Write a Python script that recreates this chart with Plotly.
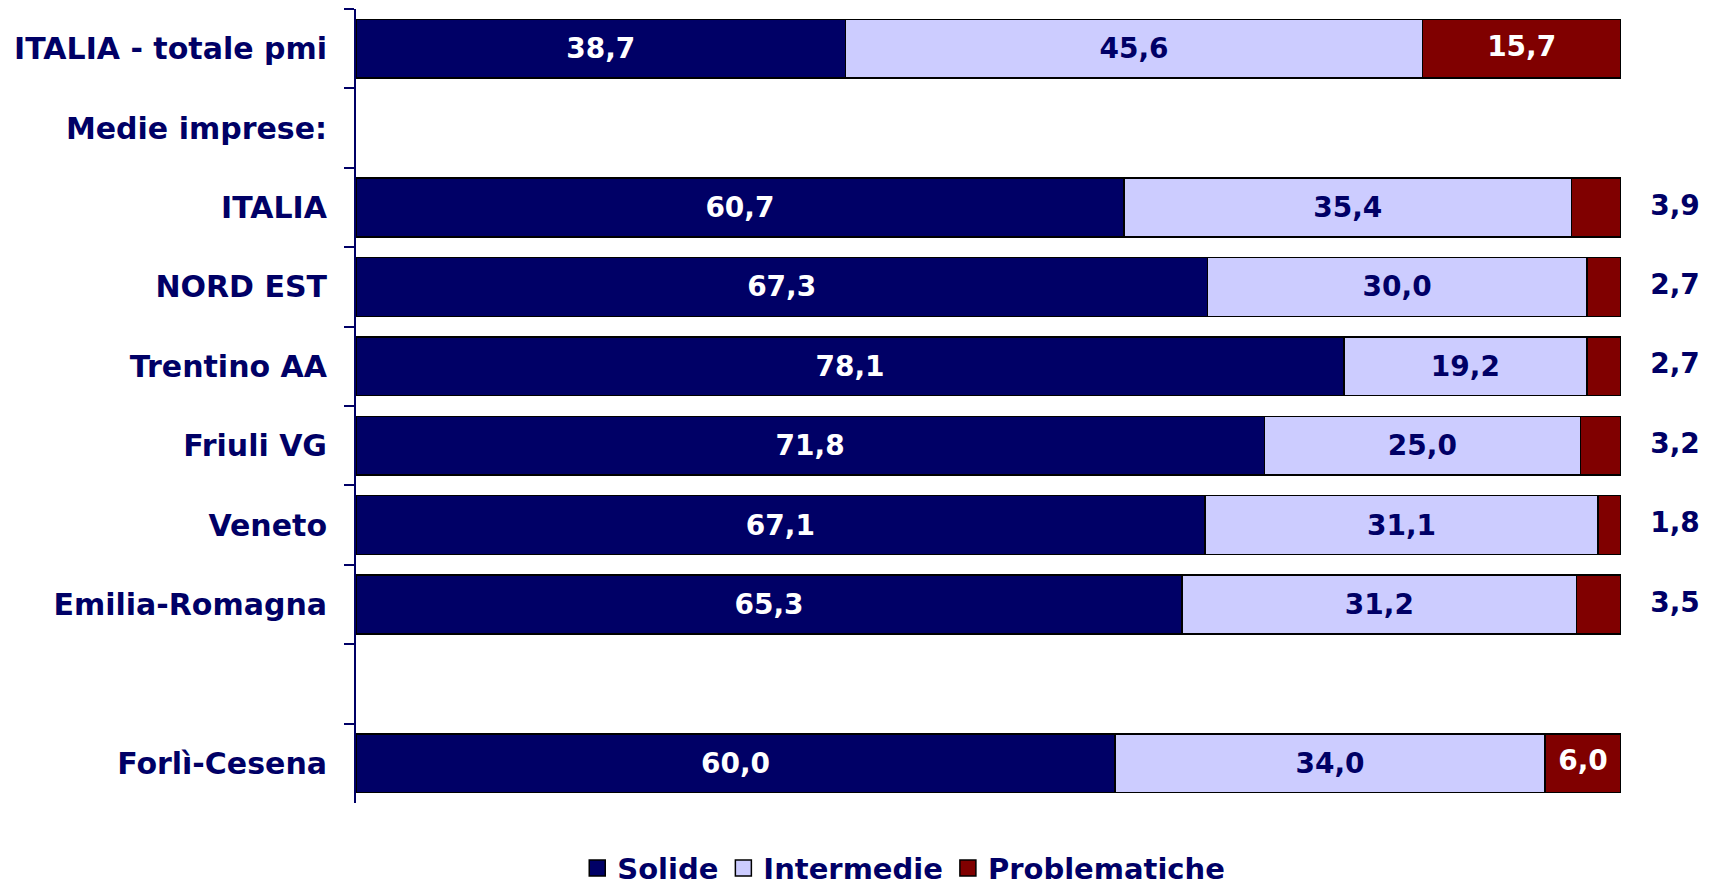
import plotly.graph_objects as go

NAVY = "#000066"

categories = [
    "ITALIA - totale pmi",
    "Medie imprese:",
    "ITALIA",
    "NORD EST",
    "Trentino AA",
    "Friuli VG",
    "Veneto",
    "Emilia-Romagna",
    " ",
    "Forlì-Cesena",
]
solide = [38.7, None, 60.7, 67.3, 78.1, 71.8, 67.1, 65.3, None, 60.0]
intermedie = [45.6, None, 35.4, 30.0, 19.2, 25.0, 31.1, 31.2, None, 34.0]
problematiche = [15.7, None, 3.9, 2.7, 2.7, 3.2, 1.8, 3.5, None, 6.0]

series = [
    ("Solide", solide, NAVY, "white"),
    ("Intermedie", intermedie, "#CCCCFF", NAVY),
    ("Problematiche", problematiche, "#800000", "white"),
]

label_font = dict(family="DejaVu Sans", size=28, weight="bold")
NBSP = "\u00a0"


def fmt(v):
    return "" if v is None else f"{v:.1f}".replace(".", ",")


fig = go.Figure()
for name, values, color, text_color in series:
    is_last = name == "Problematiche"
    fig.add_trace(
        go.Bar(
            name=name,
            y=categories,
            x=values,
            orientation="h",
            marker=dict(color=color, line=dict(color="black", width=1.5)),
            text=None if is_last else [fmt(v) for v in values],
            textposition="inside",
            textangle=0,
            insidetextanchor="middle",
            insidetextfont=dict(color=text_color, **label_font),
            constraintext="none",
            showlegend=False,
        )
    )
    # legend entry with a bigger square symbol
    fig.add_trace(
        go.Scatter(
            name=name,
            x=[None],
            y=[None],
            mode="markers",
            marker=dict(symbol="square", size=16, color=color,
                        line=dict(color="black", width=1.5)),
        )
    )

# labels of the last segment: inside when it's wide enough, otherwise past the bar end
ends, prob_labels, prob_pos, prob_colors = [], [], [], []
for s, i, p in zip(solide, intermedie, problematiche):
    if p is None:
        ends.append(None)
        prob_labels.append("")
        prob_pos.append("middle center")
        prob_colors.append("white")
        continue
    total = s + i + p
    if p < 5:
        ends.append(total)
        prob_labels.append(NBSP * 3 + fmt(p))
        prob_pos.append("middle right")
        prob_colors.append(NAVY)
    else:
        ends.append(total - p / 2)
        prob_labels.append(fmt(p))
        prob_pos.append("middle center")
        prob_colors.append("white")

fig.add_trace(
    go.Scatter(
        x=ends,
        y=categories,
        mode="text",
        text=prob_labels,
        textposition=prob_pos,
        textfont=dict(color=prob_colors, **label_font),
        cliponaxis=False,
        showlegend=False,
        hoverinfo="skip",
    )
)

# the page body has an 8px margin, margins below compensate for it
fig.update_layout(
    barmode="stack",
    bargap=0.26,
    width=1709,
    height=883,
    margin=dict(l=348, r=96, t=1, b=88, autoexpand=False),
    paper_bgcolor="white",
    plot_bgcolor="white",
    font=dict(family="DejaVu Sans", size=30, color=NAVY, weight="bold"),
    showlegend=True,
    legend=dict(
        orientation="h",
        x=0.433,
        xanchor="center",
        y=-0.082,
        yanchor="middle",
        font=dict(family="DejaVu Sans", size=29, color=NAVY, weight="bold"),
        itemwidth=30,
        traceorder="normal",
    ),
)
fig.update_xaxes(range=[0, 100], visible=False, showgrid=False, zeroline=False)
fig.update_yaxes(
    autorange="reversed",
    type="category",
    showline=True,
    linecolor=NAVY,
    linewidth=2,
    ticks="outside",
    tickson="boundaries",
    ticklen=10,
    tickwidth=2,
    tickcolor=NAVY,
    ticklabelstandoff=21,
    showgrid=False,
    tickfont=dict(family="DejaVu Sans", size=30, color=NAVY, weight="bold"),
)

fig.write_html("out.html")
